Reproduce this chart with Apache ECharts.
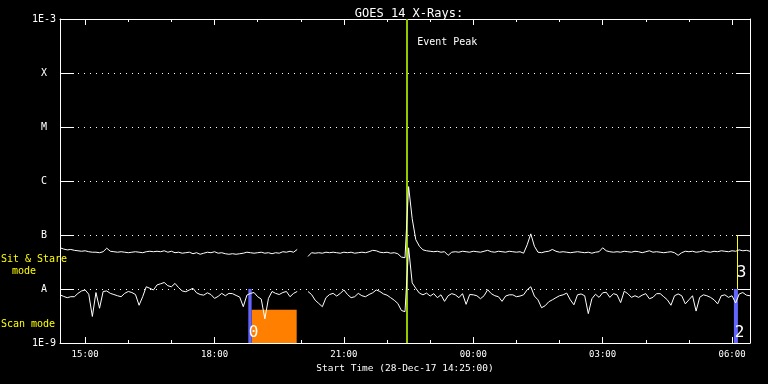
<!DOCTYPE html>
<html>
<head>
<meta charset="utf-8">
<title>GOES 14 X-Rays</title>
<script src="https://cdn.jsdelivr.net/npm/echarts@6/dist/echarts.min.js"></script>
<style>
    html, body { margin: 0; padding: 0; background: #000; }
    #chart { width: 768px; height: 384px; }
</style>
</head>
<body>
<div id="chart"></div>
<script>
// samples every 5 min from 14:25 UT, 28-Dec-17, flux in units of 1E-9 W/m^2
var sampleStep = 5;
var spanMinutes = 960;

// 1-8 A channel (upper trace)
var longFlux = [
    58,55,53,54,52,51,50,51,49,48,
    48,47,49,57,50,49,48,49,48,47,
    48,49,48,47,49,50,49,50,49,51,
    48,50,47,48,46,47,48,45,47,44,
    46,48,47,49,46,47,45,44,45,44,
    45,46,48,47,46,47,48,46,47,45,
    47,46,49,48,50,48,54,null,null,40,
    47,46,47,46,48,47,48,47,46,48,
    47,48,46,47,48,47,49,52,51,48,
    47,48,46,47,45,39,38,787,200,82,
    62,53,51,50,49,50,48,49,42,48,
    49,48,50,49,48,50,49,48,50,52,
    49,48,50,49,48,50,49,48,49,46,
    66,105,62,48,47,49,50,54,50,48,
    49,48,47,48,49,48,47,48,46,48,
    49,58,51,49,48,49,48,50,49,48,
    50,49,47,49,51,48,49,48,47,48,
    49,47,42,47,50,49,50,48,49,51,
    49,48,50,49,51,50,49,51,50,53,
    51,52,50
];

// 0.5-4 A channel (lower trace)
var shortFlux = [
    7.8,7.3,6.9,7.2,7.2,8.3,9.2,9.6,8.0,3.1,
    8.6,4.4,9.0,9.2,8.3,7.9,7.5,7.2,8.3,9.0,
    8.6,7.9,5.0,7.2,11.0,10.3,9.6,11.9,12.5,13.2,
    11.5,11.0,12.7,10.6,9.2,8.9,9.6,10.3,8.5,7.9,
    7.7,8.5,7.9,6.7,7.3,8.3,7.5,8.3,8.2,7.6,
    7.1,4.7,7.7,8.3,8.6,7.2,6.5,2.8,6.7,9.0,
    8.3,7.9,8.6,9.0,7.2,8.3,9.0,null,null,9.0,
    7.9,6.2,5.4,4.7,6.9,7.9,8.3,7.4,8.3,9.6,
    7.9,6.9,7.2,8.3,7.5,7.2,7.9,8.5,9.6,9.0,
    8.1,7.7,6.9,6.2,5.4,4.0,3.8,58,13.0,10.3,
    8.4,7.8,8.4,7.4,8.2,6.9,7.8,5.9,7.5,8.2,
    7.8,6.9,8.2,5.2,7.9,7.8,7.5,6.6,7.5,9.7,
    8.2,7.5,7.2,5.9,7.4,7.8,7.8,7.2,7.4,7.8,
    9.7,11.0,7.4,6.3,4.5,4.9,5.8,6.3,6.9,7.5,
    7.8,8.4,6.3,5.1,7.8,8.1,7.5,3.5,6.6,8.0,
    7.0,8.5,8.7,7.0,8.2,7.8,5.6,9.1,8.2,7.0,
    7.5,7.0,7.7,8.2,6.6,7.0,8.2,8.2,7.2,6.3,
    5.0,7.5,8.1,7.5,5.3,6.3,7.5,3.9,7.0,7.8,
    7.5,7.0,6.3,5.3,7.5,7.8,7.0,7.5,5.5,8.1,
    8.6,7.7,7.5
];

var yTickLabels = ['1E-9', 'A', 'B', 'C', 'M', 'X', '1E-3'];
var majorTicks = [35, 215, 395, 575, 755, 935];
var majorTickLabels = ['15:00', '18:00', '21:00', '00:00', '03:00', '06:00'];
var hourTicks = [35, 95, 155, 215, 275, 335, 395, 455, 515, 575, 635, 695, 755, 815, 875, 935];

var eventPeak = 483;
// [start, end, top flux] of the scan block, blue bars span 1E-9..1E-8
var scanBlock = [266.6, 329.3, 4.13e-9];
var blueBars = [[262, 266.6], [937.6, 943.2]];
var sitStareLine = 942.5;
var modeNumbers = [
    {t: 269.4, v: 1.56e-9, text: '0'},
    {t: 945.5, v: 1.55e-9, text: '2'},
    {t: 948.4, v: 2.02e-8, text: '3'}
];

var mono = 'DejaVu Sans Mono';

function toPairs(values) {
    return values.map(function (v, i) {
        return [i * sampleStep, v === null ? '-' : v * 1e-9];
    });
}

function yLabel(value) {
    var idx = Math.round(Math.log(value) / Math.LN10) + 9;
    return yTickLabels[idx] || '';
}

function xLabel(value) {
    var idx = majorTicks.indexOf(Math.round(value));
    return idx >= 0 ? majorTickLabels[idx] : '';
}

function timeAxis(position, ticks, len, showLine, withLabels) {
    var axis = {
        type: 'value',
        position: position,
        min: 0,
        max: spanMinutes,
        axisLine: {show: showLine, onZero: false, lineStyle: {color: '#fff', width: 1}},
        axisTick: {show: true, inside: true, length: len, customValues: ticks,
            lineStyle: {color: '#fff', width: 1}},
        axisLabel: {show: false},
        splitLine: {show: false}
    };
    if (withLabels) {
        axis.axisLabel = {
            show: true,
            customValues: majorTicks,
            formatter: xLabel,
            color: '#fff',
            fontFamily: mono,
            fontSize: 9,
            margin: 7
        };
        axis.name = 'Start Time (28-Dec-17 14:25:00)';
        axis.nameLocation = 'middle';
        axis.nameGap = 20;
        axis.nameTextStyle = {color: '#fff', fontFamily: mono, fontSize: 9.5};
    }
    return axis;
}

// onZero off, otherwise the right axis jumps to x = 0 (the left edge)
function logAxis(position, withLabels) {
    var axis = {
        type: 'log',
        logBase: 10,
        position: position,
        min: 1e-9,
        max: 1e-3,
        splitNumber: 6,
        axisLine: {show: true, onZero: false, lineStyle: {color: '#fff', width: 1}},
        axisTick: {show: true, inside: true, length: 14, lineStyle: {color: '#fff', width: 1}},
        minorTick: {show: false},
        minorSplitLine: {show: false},
        axisLabel: {show: false},
        splitLine: {show: false}
    };
    if (withLabels) {
        axis.axisLabel = {
            show: true, formatter: yLabel, color: '#fff',
            fontFamily: mono, fontSize: 10, margin: 16, align: 'center'
        };
        axis.splitLine = {show: true, lineStyle: {color: '#fff', width: 1, type: [1, 5]}};
    }
    return axis;
}

var markAreas = [[
    {coord: [scanBlock[0], 1e-9], itemStyle: {color: '#ff8000'}},
    {coord: [scanBlock[1], scanBlock[2]]}
]];
blueBars.forEach(function (b) {
    markAreas.push([
        {coord: [b[0], 1e-9], itemStyle: {color: '#6464ff'}},
        {coord: [b[1], 1e-8]}
    ]);
});

var markPoints = [{
    coord: [eventPeak, 3.7e-4],
    label: {show: true, position: 'right', distance: 10, formatter: 'Event Peak',
        color: '#fff', fontFamily: mono, fontSize: 10}
}];
modeNumbers.forEach(function (m) {
    markPoints.push({
        coord: [m.t, m.v],
        label: {show: true, position: 'inside', formatter: m.text,
            color: '#fff', fontFamily: mono, fontSize: 16}
    });
});

var chart = echarts.init(document.getElementById('chart'));
chart.setOption({
    backgroundColor: '#000',
    animation: false,
    title: {
        text: 'GOES 14 X-Rays:',
        left: 404,
        top: 3,
        textAlign: 'center',
        textStyle: {color: '#fff', fontFamily: mono, fontSize: 12, fontWeight: 'normal'}
    },
    grid: {left: 60, right: 18, top: 19, bottom: 41},
    xAxis: [
        timeAxis('bottom', majorTicks, 6, true, true),
        timeAxis('bottom', hourTicks, 3, false, false),
        timeAxis('top', majorTicks, 6, true, false),
        timeAxis('top', hourTicks, 3, false, false)
    ],
    yAxis: [logAxis('left', true), logAxis('right', false)],
    graphic: [
        {type: 'text', x: 34, y: 259, style: {text: 'Sit & Stare', fill: '#ffff00',
            font: '10px ' + mono, align: 'center', verticalAlign: 'middle'}},
        {type: 'text', x: 24, y: 271, style: {text: 'mode', fill: '#ffff00',
            font: '10px ' + mono, align: 'center', verticalAlign: 'middle'}},
        {type: 'text', x: 28, y: 324, style: {text: 'Scan mode', fill: '#ffff00',
            font: '10px ' + mono, align: 'center', verticalAlign: 'middle'}}
    ],
    series: [
        {
            name: 'long',
            type: 'line',
            xAxisIndex: 0,
            yAxisIndex: 0,
            data: toPairs(longFlux),
            symbol: 'none',
            connectNulls: false,
            lineStyle: {color: '#fff', width: 1},
            z: 5,
            markArea: {silent: true, data: markAreas},
            markLine: {
                silent: true,
                symbol: 'none',
                label: {show: false},
                data: [
                    {xAxis: eventPeak, lineStyle: {color: '#96c800', width: 2, type: 'solid'}},
                    [
                        {coord: [sitStareLine, 1e-8], lineStyle: {color: '#ffff00', width: 1, type: 'solid'}},
                        {coord: [sitStareLine, 1e-7]}
                    ]
                ]
            },
            markPoint: {silent: true, symbol: 'circle', symbolSize: 0, data: markPoints}
        },
        {
            name: 'short',
            type: 'line',
            xAxisIndex: 0,
            yAxisIndex: 0,
            data: toPairs(shortFlux),
            symbol: 'none',
            connectNulls: false,
            lineStyle: {color: '#fff', width: 1},
            z: 5
        }
    ]
});
</script>
</body>
</html>
